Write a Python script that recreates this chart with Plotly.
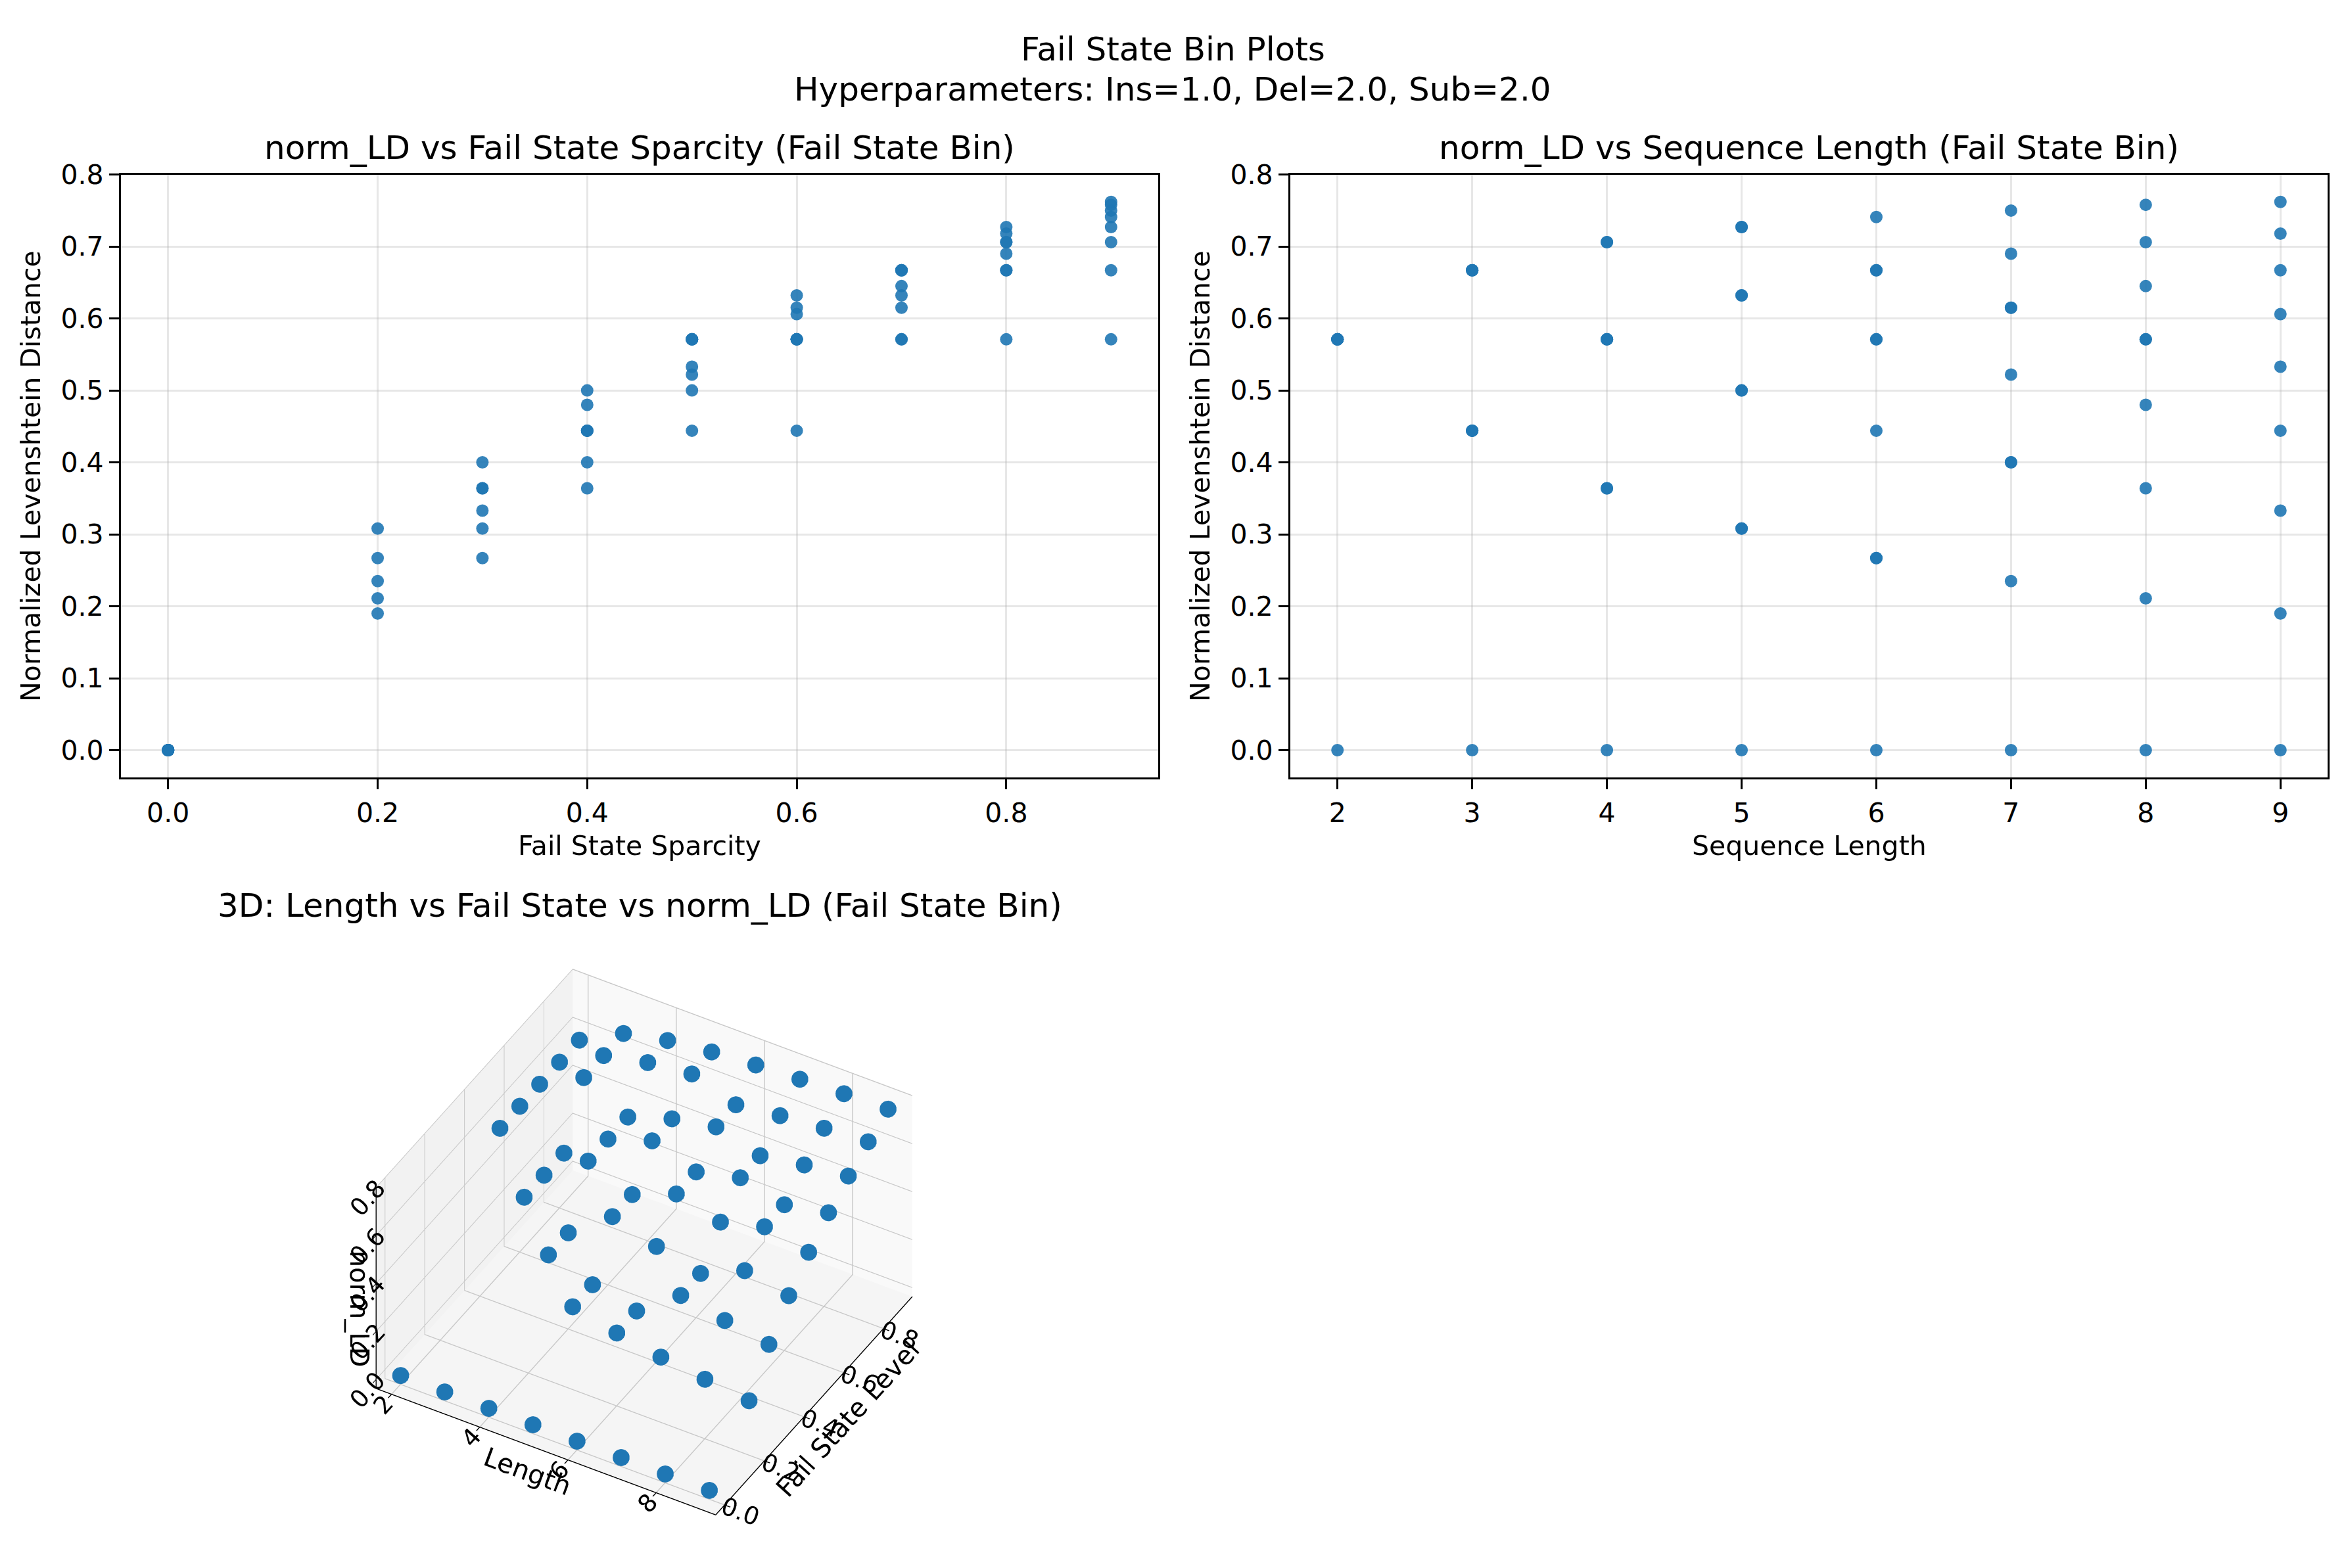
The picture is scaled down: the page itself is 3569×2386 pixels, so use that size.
import plotly.graph_objects as go

W, H = 3569, 2386
BLUE = "#1f77b4"
FONT = "DejaVu Sans"

# one entry per (fail state level, sequence length) point
fail_level = [
    0.0, 0.0, 0.0, 0.0, 0.0, 0.0, 0.0, 0.0,
    0.2, 0.2, 0.2, 0.2, 0.2,
    0.3, 0.3, 0.3, 0.3, 0.3, 0.3,
    0.4, 0.4, 0.4, 0.4, 0.4, 0.4, 0.4,
    0.5, 0.5, 0.5, 0.5, 0.5, 0.5, 0.5, 0.5,
    0.6, 0.6, 0.6, 0.6, 0.6, 0.6, 0.6, 0.6,
    0.7, 0.7, 0.7, 0.7, 0.7, 0.7, 0.7, 0.7,
    0.8, 0.8, 0.8, 0.8, 0.8, 0.8, 0.8, 0.8,
    0.9, 0.9, 0.9, 0.9, 0.9, 0.9, 0.9, 0.9,
]
seq_length = [
    2, 3, 4, 5, 6, 7, 8, 9,
    5, 6, 7, 8, 9,
    4, 5, 6, 7, 8, 9,
    3, 4, 5, 6, 7, 8, 9,
    2, 3, 4, 5, 6, 7, 8, 9,
    2, 3, 4, 5, 6, 7, 8, 9,
    2, 3, 4, 5, 6, 7, 8, 9,
    2, 3, 4, 5, 6, 7, 8, 9,
    2, 3, 4, 5, 6, 7, 8, 9,
]
norm_ld = [
    0.0, 0.0, 0.0, 0.0, 0.0, 0.0, 0.0, 0.0,
    0.308, 0.267, 0.235, 0.211, 0.190,
    0.364, 0.308, 0.267, 0.400, 0.364, 0.333,
    0.444, 0.364, 0.500, 0.444, 0.400, 0.480, 0.444,
    0.571, 0.444, 0.571, 0.500, 0.571, 0.522, 0.571, 0.533,
    0.571, 0.444, 0.571, 0.632, 0.571, 0.615, 0.571, 0.606,
    0.571, 0.667, 0.571, 0.632, 0.667, 0.615, 0.645, 0.667,
    0.571, 0.667, 0.706, 0.727, 0.667, 0.690, 0.706, 0.718,
    0.571, 0.667, 0.706, 0.727, 0.741, 0.750, 0.758, 0.762,
]

sparsity_ticks = [0.0, 0.2, 0.4, 0.6, 0.8]
length_ticks = [2, 3, 4, 5, 6, 7, 8, 9]
ld_ticks = [0.0, 0.1, 0.2, 0.3, 0.4, 0.5, 0.6, 0.7, 0.8]
ticks_3d = [0.0, 0.2, 0.4, 0.6, 0.8]


def fx(p):
    return p / W


def fy(p):
    return 1 - p / H


fig = go.Figure()

marker = dict(color=BLUE, size=19, opacity=0.9, line=dict(width=0))
fig.add_trace(go.Scatter(x=fail_level, y=norm_ld, mode="markers", marker=marker,
                         xaxis="x", yaxis="y", showlegend=False))
fig.add_trace(go.Scatter(x=seq_length, y=norm_ld, mode="markers", marker=marker,
                         xaxis="x2", yaxis="y2", showlegend=False))
fig.add_trace(go.Scatter3d(x=seq_length, y=fail_level, z=norm_ld, mode="markers",
                           marker=dict(color=BLUE, size=15, line=dict(width=0)),
                           scene="scene", showlegend=False))

ax = dict(showline=True, linecolor="black", linewidth=3.3, mirror=True,
          ticks="outside", ticklen=15, tickwidth=3.3, tickcolor="black",
          showgrid=True, gridcolor="rgba(176,176,176,0.3)", gridwidth=3.3,
          zeroline=False, tickfont=dict(size=41, color="black", family=FONT))

left = [fx(184), fx(1762)]
right = [fx(1963), fx(3541)]
top_row = [fy(1171), fy(244)]

fig.update_layout(
    xaxis=dict(ax, domain=left, anchor="y", range=[-0.045, 0.945],
               tickvals=sparsity_ticks, tickformat=".1f"),
    yaxis=dict(ax, domain=top_row, anchor="x", range=[-0.0381, 0.8001],
               tickvals=ld_ticks, tickformat=".1f"),
    xaxis2=dict(ax, domain=right, anchor="y2", range=[1.65, 9.35],
                tickvals=length_ticks),
    yaxis2=dict(ax, domain=top_row, anchor="x2", range=[-0.0381, 0.8001],
                tickvals=ld_ticks, tickformat=".1f"),
)

ax3 = dict(showbackground=True, gridcolor="#c8c8c8", gridwidth=3,
           showline=True, linecolor="black", linewidth=3,
           ticks="outside", ticklen=10, tickwidth=3, tickcolor="black",
           zeroline=False, showspikes=False,
           tickfont=dict(size=21, color="black", family=FONT),
           title_font=dict(size=40, color="black", family=FONT))

fig.update_layout(scene=dict(
    domain=dict(x=[fx(480), fx(1480)], y=[fy(2360), fy(1410)]),
    xaxis=dict(ax3, title_text="Length", range=[1.65, 9.35], tickvals=[2, 4, 6, 8],
               backgroundcolor="rgb(242,242,242)"),
    yaxis=dict(ax3, title_text="Fail State Level", range=[-0.045, 0.945],
               tickvals=ticks_3d, tickformat=".1f",
               backgroundcolor="rgb(249,249,249)"),
    zaxis=dict(ax3, title_text="norm_LD", range=[-0.0381, 0.8001],
               tickvals=ticks_3d, tickformat=".1f",
               backgroundcolor="rgb(245,245,245)"),
    aspectmode="manual", aspectratio=dict(x=1.27, y=1.27, z=0.85),
    camera=dict(eye=dict(x=0.77, y=-1.33, z=1.29), center=dict(x=0, y=0, z=0),
                projection=dict(type="orthographic")),
))

notes = [
    ("Fail State Bin Plots", 1784, 52, 50, 0),
    ("Hyperparameters: Ins=1.0, Del=2.0, Sub=2.0", 1784, 113, 50, 0),
    ("norm_LD vs Fail State Sparcity (Fail State Bin)", 973, 203, 50, 0),
    ("norm_LD vs Sequence Length (Fail State Bin)", 2752, 203, 50, 0),
    ("Fail State Sparcity", 973, 1276, 41, 0),
    ("Sequence Length", 2752, 1276, 41, 0),
    ("Normalized Levenshtein Distance", 47, 708, 41, -90),
    ("Normalized Levenshtein Distance", 1826, 708, 41, -90),
    ("3D: Length vs Fail State vs norm_LD (Fail State Bin)", 973, 1368, 50, 0),
]
for text, x, y, size, angle in notes:
    fig.add_annotation(text=text, x=fx(x), y=fy(y), xref="paper", yref="paper",
                       xanchor="center", yanchor="middle", showarrow=False,
                       textangle=angle, font=dict(size=size, color="black", family=FONT))

fig.update_layout(width=W, height=H, margin=dict(l=0, r=0, t=0, b=0, pad=0),
                  paper_bgcolor="white", plot_bgcolor="white",
                  font=dict(family=FONT, color="black"), showlegend=False)

# drop the browser's default page margin so the figure sits at 0,0
fig.write_html("out.html", config={"displayModeBar": False},
               post_script="document.body.style.margin = '0px';")
